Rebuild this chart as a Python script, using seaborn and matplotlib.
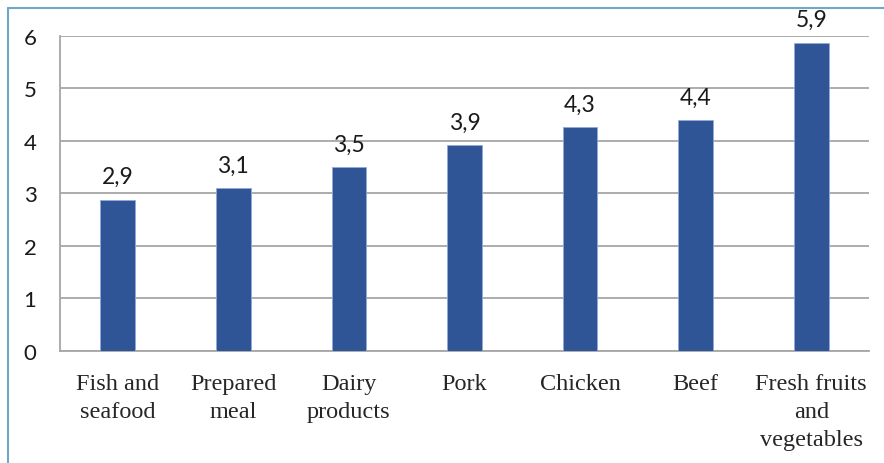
import matplotlib
matplotlib.use("Agg")
import matplotlib.pyplot as plt
import seaborn as sns
import pandas as pd
from matplotlib.lines import Line2D

categories = ["Fish and\nseafood", "Prepared\nmeal", "Dairy\nproducts", "Pork",
              "Chicken", "Beef", "Fresh fruits\nand\nvegetables"]
values = [2.88, 3.1, 3.5, 3.92, 4.26, 4.4, 5.87]
yticks = [0, 1, 2, 3, 4, 5, 6]

df = pd.DataFrame({"category": categories, "value": values})

sns.set_style("white")
plt.rcParams['font.family'] = ['Lato', 'DejaVu Sans']

fig = plt.figure(figsize=(8.84, 4.64), dpi=100)
ax = fig.add_axes([0.0679, 0.2414, 0.9151, 0.6789])

sns.barplot(data=df, x="category", y="value", color="#2F5597", width=0.3,
            saturation=1, edgecolor="#8FAADC", linewidth=0.6, ax=ax, zorder=3)

ax.set_ylim(0, 6)
ax.set_xlim(-0.5, len(categories) - 0.5)
ax.set_yticks(yticks)
ax.set_yticklabels([str(t) for t in yticks], fontsize=16, color="#1a1a1a")
ax.tick_params(axis="y", length=0, pad=17)
ax.tick_params(axis="x", length=0, pad=16)
for lbl in ax.get_xticklabels():
    lbl.set_fontfamily("Liberation Serif")
    lbl.set_fontsize(17.5)
    lbl.set_linespacing(1.42)
ax.set_xlabel("")
ax.set_ylabel("")

ax.grid(axis="y", color="#A6A6A6", linewidth=1.3, zorder=0)
for s in ["top", "right"]:
    ax.spines[s].set_visible(False)
for s in ["left", "bottom"]:
    ax.spines[s].set_color("#A6A6A6")
    ax.spines[s].set_linewidth(1.3)

labels = [f"{v:.1f}".replace(".", ",") for v in values]
ax.bar_label(ax.containers[0], labels=labels, padding=9, fontsize=16.5, color="#1a1a1a")

# outer frame (left and top edges only visible)
fig.add_artist(Line2D([8 / 884, 8 / 884], [0, 1 - 9 / 464], transform=fig.transFigure,
                      color="#6FA8C6", linewidth=1.5))
fig.add_artist(Line2D([8 / 884, 1], [1 - 9 / 464, 1 - 9 / 464], transform=fig.transFigure,
                      color="#6FA8C6", linewidth=1.5))

fig.savefig("out.png", dpi=100)
plt.close(fig)
